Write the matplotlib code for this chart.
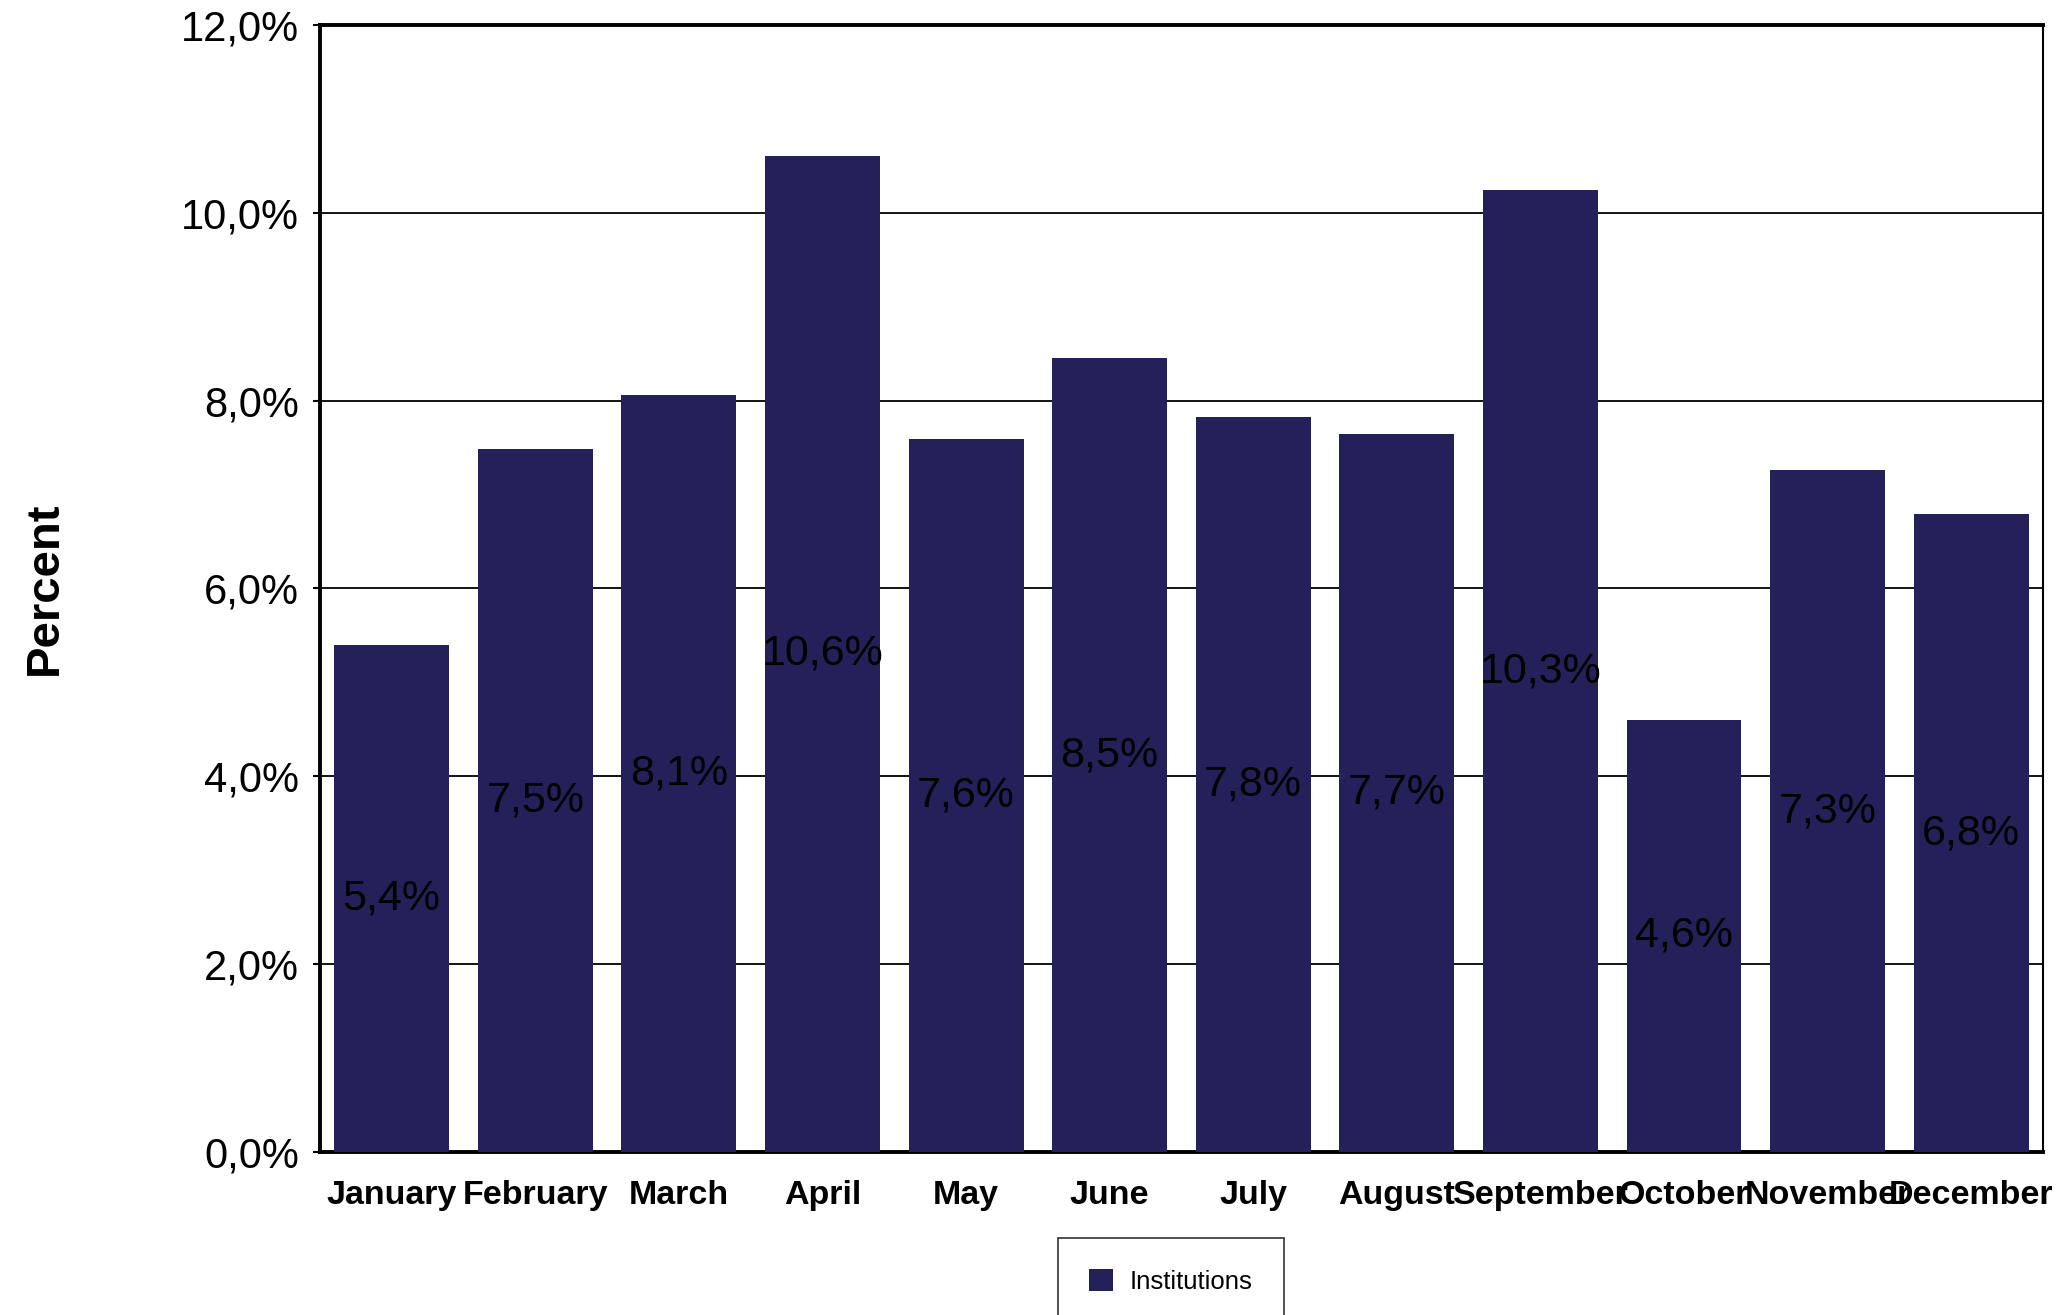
import matplotlib.pyplot as plt
import numpy as np

months = ['January', 'February', 'March', 'April', 'May', 'June', 'July',
          'August', 'September', 'October', 'November', 'December']
share = [5.40, 7.48, 8.06, 10.61, 7.59, 8.45, 7.83, 7.65, 10.24, 4.60, 7.26, 6.79]
labels = ['5,4%', '7,5%', '8,1%', '10,6%', '7,6%', '8,5%', '7,8%', '7,7%',
          '10,3%', '4,6%', '7,3%', '6,8%']
yticks = [0, 2, 4, 6, 8, 10, 12]
ytick_labels = ['0,0%', '2,0%', '4,0%', '6,0%', '8,0%', '10,0%', '12,0%']

plt.rcParams['font.family'] = ['Liberation Sans', 'DejaVu Sans']
bar_color = '#24215a'

fig = plt.figure(figsize=(20.72, 13.15), dpi=100)
ax = fig.add_axes([0.1544, 0.124, 0.8316, 0.857])

index = np.arange(len(months))
bars = ax.bar(index, share, 0.8, color=bar_color, label='Institutions', zorder=3)

for i, v in enumerate(share):
    ax.text(index[i], v / 2, labels[i], ha='center', va='center', fontsize=31, zorder=4)

ax.set_xlim(-0.5, len(months) - 0.5)
ax.set_ylim(0, 12)
ax.set_yticks(yticks)
ax.set_yticklabels(ytick_labels, fontsize=30)
ax.set_xticks(index)
ax.set_xticklabels(months, fontsize=24.5, fontweight='bold',
                   family=['Liberation Sans Narrow', 'Liberation Sans'])
ax.tick_params(axis='x', length=0, pad=20)
ax.tick_params(axis='y', length=5, width=1.5, pad=10)
ax.yaxis.grid(True, color='black', linewidth=1.3, zorder=1)

for side in ['left', 'bottom', 'top']:
    ax.spines[side].set_linewidth(2.8)
ax.spines['right'].set_linewidth(1.5)

ax.set_ylabel('Percent', fontsize=34, fontweight='bold')
ax.yaxis.set_label_coords(-0.147, 0.5)

leg = fig.legend(handles=[bars], loc='upper left',
                 bbox_to_anchor=(1058 / 2072, 1 - 1238 / 1315),
                 fontsize=18.5, frameon=True, fancybox=False, borderpad=1.2,
                 handlelength=0.95, handleheight=0.95, handletextpad=0.65,
                 borderaxespad=0)
leg.get_frame().set_edgecolor('black')
leg.get_frame().set_linewidth(1.2)

fig.savefig('out.png', dpi=100)
